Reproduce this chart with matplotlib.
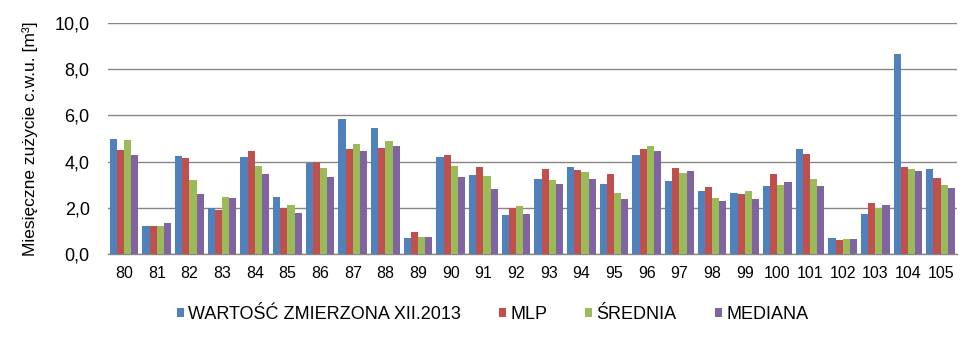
import numpy as np
import matplotlib.pyplot as plt

plt.rcParams['font.family'] = ['Liberation Sans', 'DejaVu Sans']

# numery lokali
categories = [str(n) for n in range(80, 106)]

measured = [4.97, 1.21, 4.23, 2.00, 4.19, 2.46, 3.93, 5.83, 5.44, 0.69,
            4.19, 3.41, 1.68, 3.24, 3.76, 3.02, 4.28, 3.15, 2.72, 2.63,
            2.94, 4.53, 0.69, 1.73, 8.68, 3.67]
mlp = [4.49, 1.21, 4.15, 1.90, 4.45, 2.00, 3.99, 4.53, 4.58, 0.95,
       4.28, 3.76, 2.00, 3.67, 3.63, 3.45, 4.53, 3.71, 2.89, 2.59,
       3.45, 4.32, 0.60, 2.20, 3.76, 3.28]
mean = [4.92, 1.21, 3.20, 2.46, 3.80, 2.10, 3.71, 4.75, 4.88, 0.74,
        3.80, 3.37, 2.07, 3.20, 3.54, 2.63, 4.66, 3.50, 2.42, 2.72,
        2.98, 3.24, 0.65, 1.99, 3.67, 2.98]
median = [4.28, 1.34, 2.60, 2.42, 3.45, 1.77, 3.32, 4.45, 4.66, 0.74,
          3.32, 2.81, 1.72, 3.02, 3.24, 2.37, 4.45, 3.59, 2.29, 2.37,
          3.11, 2.94, 0.65, 2.12, 3.59, 2.85]

series = [measured, mlp, mean, median]
labels = ['WARTOŚĆ ZMIERZONA XII.2013', 'MLP', 'ŚREDNIA', 'MEDIANA']
colors = ['#4F81BD', '#C0504D', '#9BBB59', '#8064A2']

fig = plt.figure(figsize=(9.8, 3.44), dpi=100)
ax = fig.add_axes([0.110, 0.262, 0.8665, 0.671])

x = np.arange(len(categories))
w = 0.219
for i, (vals, lab, col) in enumerate(zip(series, labels, colors)):
    ax.bar(x + (i - 1.5) * w, vals, width=w, color=col, label=lab, zorder=3)

ax.set_xlim(-0.5, len(categories) - 0.5)
ax.set_ylim(0, 10)
yt = np.arange(0, 10.1, 2)
ax.set_yticks(yt)
ax.set_yticklabels([f'{v:.1f}'.replace('.', ',') for v in yt])
ax.set_xticks(x)
ax.set_xticklabels(categories)
ax.tick_params(axis='both', length=0, colors='black')
ax.tick_params(axis='y', pad=13, labelsize=13)
ax.tick_params(axis='x', pad=9, labelsize=11.5)

ax.grid(axis='y', color='#868686', linewidth=1, zorder=0)
for s in ['top', 'right', 'left']:
    ax.spines[s].set_visible(False)
ax.spines['bottom'].set_color('#868686')
ax.spines['bottom'].set_linewidth(1)

ax.set_ylabel('Miesięczne zużycie c.w.u. [m³]', fontsize=12.5, labelpad=12)

ax.legend(loc='upper center', bbox_to_anchor=(0.453, -0.155), ncol=4, frameon=False,
          fontsize=13, handlelength=0.38, handleheight=0.38, handletextpad=0.25,
          columnspacing=2.1)

fig.savefig('out.png', dpi=100)
